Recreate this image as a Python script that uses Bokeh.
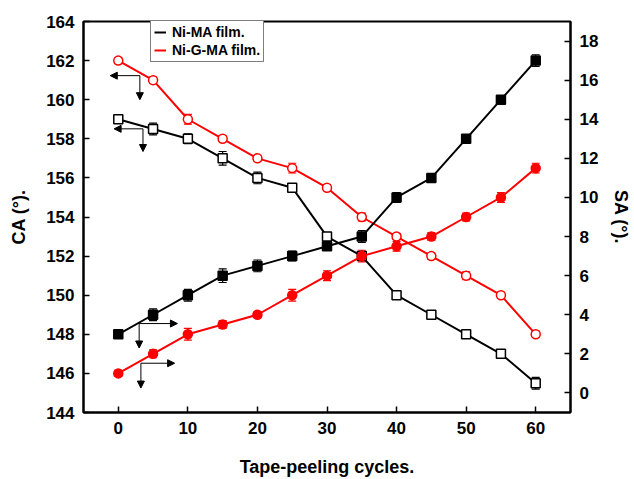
from bokeh.plotting import figure
from bokeh.models import (Range1d, LinearAxis, FixedTicker, Arrow, NormalHead,
                          Legend, LegendItem, Whisker, ColumnDataSource, TeeHead)
from bokeh.embed import file_html
from bokeh.resources import INLINE

cycles = [0, 5, 10, 15, 20, 25, 30, 35, 40, 45, 50, 55, 60]
ma_ca = [159, 158.5, 158, 157, 156, 155.5, 153, 152, 150, 149, 148, 147, 145.5]
ma_ca_err = [0.1, 0.3, 0.25, 0.35, 0.3, 0.2, 0.15, 0.15, 0.15, 0.15, 0.2, 0.15, 0.3]
gma_ca = [162, 161, 159, 158, 157, 156.5, 155.5, 154, 153, 152, 151, 150, 148]
gma_ca_err = [0.15, 0.15, 0.25, 0.15, 0.15, 0.25, 0.15, 0.2, 0.15, 0.15, 0.2, 0.15, 0.15]
ma_sa = [3, 4, 5, 6, 6.5, 7, 7.5, 8, 10, 11, 13, 15, 17]
ma_sa_err = [0.15, 0.3, 0.3, 0.35, 0.3, 0.25, 0.2, 0.3, 0.25, 0.2, 0.2, 0.2, 0.3]
gma_sa = [1, 2, 3, 3.5, 4, 5, 6, 7, 7.5, 8, 9, 10, 11.5]
gma_sa_err = [0.15, 0.2, 0.3, 0.2, 0.15, 0.3, 0.25, 0.3, 0.25, 0.2, 0.2, 0.25, 0.25]

x_ticks = [0, 10, 20, 30, 40, 50, 60]
ca_ticks = [144, 146, 148, 150, 152, 154, 156, 158, 160, 162, 164]
sa_ticks = [0, 2, 4, 6, 8, 10, 12, 14, 16, 18]

series_names = ["Ni-MA film.", "Ni-G-MA film."]

# annotation arrows (corner point, horizontal end, vertical end) in CA coordinates
arr_cx = [3.1, 3.55, 3.0, 3.25]
arr_cy = [161.23, 158.51, 148.55, 146.52]
arr_hx = [-1.15, -0.6, 8.5, 8.1]
arr_vy = [160.0, 157.35, 147.3, 145.25]

FONT = "Liberation Sans"

p = figure(width=634, height=479, output_backend="svg", toolbar_location=None,
           title=None, x_range=Range1d(-5, 65), y_range=Range1d(144, 164),
           min_border_left=83, min_border_right=58, min_border_top=21,
           min_border_bottom=61)
p.extra_y_ranges = {"sa": Range1d(-1, 19)}
p.xgrid.visible = False
p.ygrid.visible = False
p.outline_line_color = "black"
p.outline_line_width = 2
p.outline_line_alpha = 1
p.background_fill_color = "white"
p.border_fill_color = "white"

sa_axis = LinearAxis(y_range_name="sa")
p.add_layout(sa_axis, "right")

p.xaxis.ticker = FixedTicker(ticks=x_ticks)
p.yaxis[0].ticker = FixedTicker(ticks=ca_ticks)
sa_axis.ticker = FixedTicker(ticks=sa_ticks)

p.xaxis.axis_label = "Tape-peeling cycles."
p.yaxis[0].axis_label = "CA (°)."
sa_axis.axis_label = "SA (°)."

for ax in [p.xaxis[0], p.yaxis[0], sa_axis]:
    ax.axis_line_width = 2
    ax.axis_line_color = "black"
    ax.major_tick_line_width = 1.5
    ax.major_tick_in = 6
    ax.major_tick_out = 0
    ax.minor_tick_line_color = None
    ax.major_label_text_font = FONT
    ax.major_label_text_font_style = "bold"
    ax.major_label_text_font_size = "17px"
    ax.major_label_text_color = "black"
    ax.axis_label_text_font = FONT
    ax.axis_label_text_font_style = "bold"
    ax.axis_label_text_font_size = "18px"
    ax.axis_label_text_color = "black"

p.xaxis.major_label_standoff = 9
p.xaxis.axis_label_standoff = 20
p.yaxis[0].major_label_standoff = 9
p.yaxis[0].axis_label_standoff = 14
sa_axis.major_label_standoff = 9
sa_axis.axis_label_standoff = 10


def add_series(y, err, color, marker, filled, rng):
    lo = [a - e for a, e in zip(y, err)]
    hi = [a + e for a, e in zip(y, err)]
    src = ColumnDataSource(dict(x=cycles, y=y, lo=lo, hi=hi))
    kw = {} if rng is None else {"y_range_name": rng}
    w = Whisker(base="x", lower="lo", upper="hi", source=src, dimension="height",
                line_color=color, line_width=1.2,
                upper_head=TeeHead(size=8, line_color=color, line_width=1.2),
                lower_head=TeeHead(size=8, line_color=color, line_width=1.2),
                level="underlay", **kw)
    p.add_layout(w)
    ln = p.line("x", "y", source=src, line_color=color, line_width=2, **kw)
    p.scatter("x", "y", source=src, marker=marker, size=9,
              line_color=color, line_width=1.5,
              fill_color=color if filled else "white", **kw)
    return ln


ln_ma = add_series(ma_ca, ma_ca_err, "black", "square", False, None)
ln_gma = add_series(gma_ca, gma_ca_err, "red", "circle", False, None)
add_series(ma_sa, ma_sa_err, "black", "square", True, "sa")
add_series(gma_sa, gma_sa_err, "red", "circle", True, "sa")

for cx, cy, hx, vy in zip(arr_cx, arr_cy, arr_hx, arr_vy):
    p.add_layout(Arrow(x_start=cx, y_start=cy, x_end=hx, y_end=cy,
                       line_color="black", line_width=1,
                       end=NormalHead(size=7, fill_color="black", line_color="black")))
    p.add_layout(Arrow(x_start=cx, y_start=cy, x_end=cx, y_end=vy,
                       line_color="black", line_width=1,
                       end=NormalHead(size=7, fill_color="black", line_color="black")))

legend = Legend(items=[LegendItem(label=series_names[0], renderers=[ln_ma]),
                       LegendItem(label=series_names[1], renderers=[ln_gma])],
                location=(67, 350))
legend.label_text_font = FONT
legend.label_text_font_style = "bold"
legend.label_text_font_size = "14px"
legend.label_text_color = "black"
legend.glyph_width = 12
legend.glyph_height = 16
legend.label_height = 16
legend.label_standoff = 6
legend.spacing = 2
legend.padding = 3
legend.margin = 0
legend.border_line_color = "black"
legend.border_line_width = 1
legend.background_fill_alpha = 1
p.add_layout(legend)

open("out.html", "w").write(file_html(p, INLINE))
